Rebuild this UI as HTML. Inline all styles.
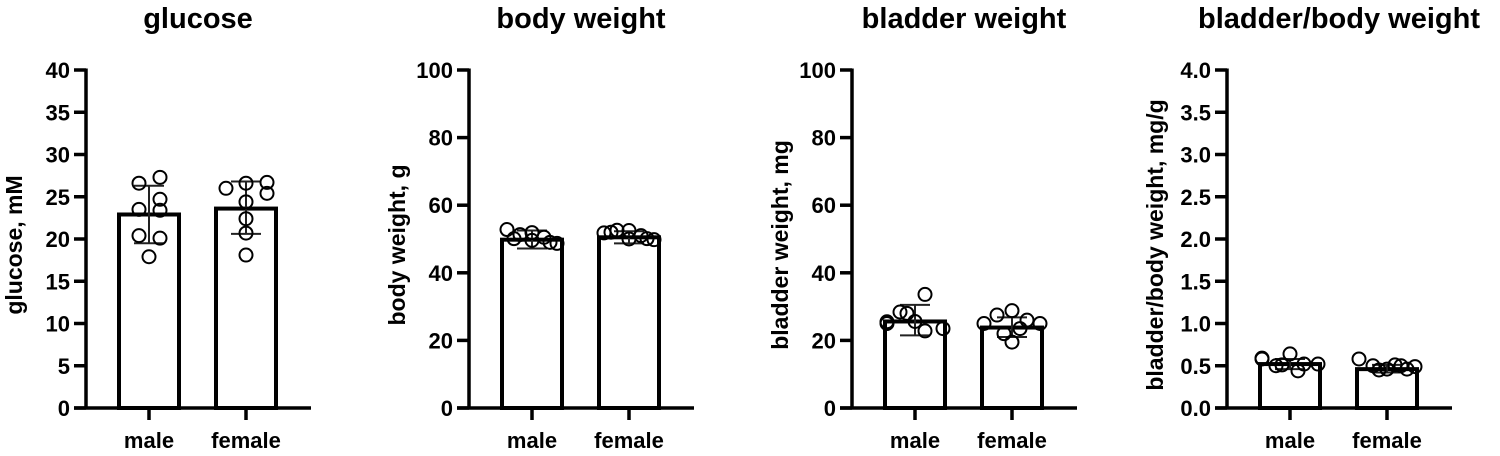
<!DOCTYPE html>
<html><head><meta charset="utf-8"><style>
body{margin:0;background:#fff;width:1500px;height:451px;overflow:hidden}
svg text{font-family:"Liberation Sans",Arial,sans-serif;font-weight:bold;fill:#000}
</style></head><body>
<svg id="c" width="1500" height="451"></svg>
<script>
const titles=["glucose","body weight","bladder weight","bladder/body weight"];
const yTitles=["glucose, mM","body weight, g","bladder weight, mg","bladder/body weight, mg/g"];
const categories=["male","female"];
const yMax=[40,100,100,4.0];
const tickStep=[5,20,20,0.5];
const tickDecimals=[0,0,0,1];
const means=[[22.9,23.6],[49.8,50.5],[25.6,23.8],[0.52,0.46]];
const sdHigh=[[26.3,26.8],[52.5,52.3],[30.5,26.8],[0.58,0.51]];
const sdLow=[[19.5,20.6],[47.2,48.7],[21.5,21.0],[0.46,0.42]];
const pointsMale=[[27.3,26.6,24.7,23.5,23.4,20.4,20.1,17.9],[52.8,51.3,51.9,50.5,48.7,50.1,49.0,49.6],[25.5,28.4,33.6,25.6,23.5,28.0,25.0,22.8],[0.59,0.50,0.64,0.52,0.52,0.51,0.58,0.44]];
const pointsFemale=[[26.7,26.6,26.0,25.4,24.4,22.4,20.7,18.1],[51.8,52.6,50.0,51.0,49.8,52.0,50.1,52.5],[25.0,27.5,28.8,26.0,25.0,19.5,22.0,23.5],[0.58,0.50,0.46,0.50,0.49,0.45,0.51,0.46]];
const axisX=[86,469,852,1227];
const svg=document.getElementById('c');
const NS='http://www.w3.org/2000/svg';
function mk(t,a,p){const e=document.createElementNS(NS,t);for(const k in a)e.setAttribute(k,a[k]);(p||svg).appendChild(e);return e;}
const y0=408,y1=70;
const jitM=[[11,-10,11,-10,11,-10,11,0],[-25,-12,0,12,25,-18,18,0],[-28,-15,10,0,28,-8,-28,10],[-28,-14,0,14,28,-8,-28,8]];
const jitF=[[21,0,-20,21,0,0,0,0],[-25,-12,0,12,25,-18,18,0],[-28,-15,0,15,28,0,-8,8],[-28,-14,0,14,28,-8,8,20]];
for(let p=0;p<4;p++){
  const ax=axisX[p];
  const g=mk('g',{});
  
  
  const Y=v=>y0-(v/yMax[p])*(y0-y1);
  const X=i=>ax+63+i*97;
  const t=mk('text',{x:ax+112,y:28,'font-size':29,'text-anchor':'middle'},g);t.textContent=titles[p];
  
  const yt=mk('text',{transform:`translate(${ax-64},${(y0+y1)/2+6}) rotate(-90)`,'font-size':23,'text-anchor':'middle'},g);yt.textContent=yTitles[p];
  
  const ya=mk('line',{x1:ax,y1:y1-1.5,x2:ax,y2:y0+1.5,stroke:'#000','stroke-width':3.5},g);
  
  const xa=mk('line',{x1:ax-12,y1:y0,x2:ax+225,y2:y0,stroke:'#000','stroke-width':3.5},g);
  
  for(let v=0;v<=yMax[p]+1e-9;v+=tickStep[p]){
    const yy=Y(v);
    mk('line',{x1:ax-12,y1:yy,x2:ax,y2:yy,stroke:'#000','stroke-width':3.5},g);
    const tl=mk('text',{x:ax-16,y:yy+8,'font-size':22,'text-anchor':'end'},g);tl.textContent=v.toFixed(tickDecimals[p]);
    
  }
  for(let i=0;i<2;i++){
    const cx=X(i);
    mk('line',{x1:cx,y1:y0,x2:cx,y2:y0+12,stroke:'#000','stroke-width':3.5},g);
    const xl=mk('text',{x:cx,y:y0+40,'font-size':22,'text-anchor':'middle'},g);xl.textContent=categories[i];
    
    const b=mk('rect',{x:cx-30,y:Y(means[p][i]),width:60,height:y0-Y(means[p][i]),fill:'#fff',stroke:'#000','stroke-width':4},g);
    
    const eb=mk('g',{stroke:'#222','stroke-width':2},g);
    
    mk('line',{x1:cx,y1:Y(sdHigh[p][i]),x2:cx,y2:Y(sdLow[p][i])},eb);
    mk('line',{x1:cx-15,y1:Y(sdHigh[p][i]),x2:cx+15,y2:Y(sdHigh[p][i])},eb);
    mk('line',{x1:cx-15,y1:Y(sdLow[p][i]),x2:cx+15,y2:Y(sdLow[p][i])},eb);
    const pts=i===0?pointsMale[p]:pointsFemale[p];
    const jj=i===0?jitM[p]:jitF[p];
    pts.forEach((v,k)=>{
      const c=mk('circle',{cx:cx+jj[k],cy:Y(v),r:6.5,fill:'none',stroke:'#000','stroke-width':2},g);
      
      
    });
  }
}
</script>
</body></html>
